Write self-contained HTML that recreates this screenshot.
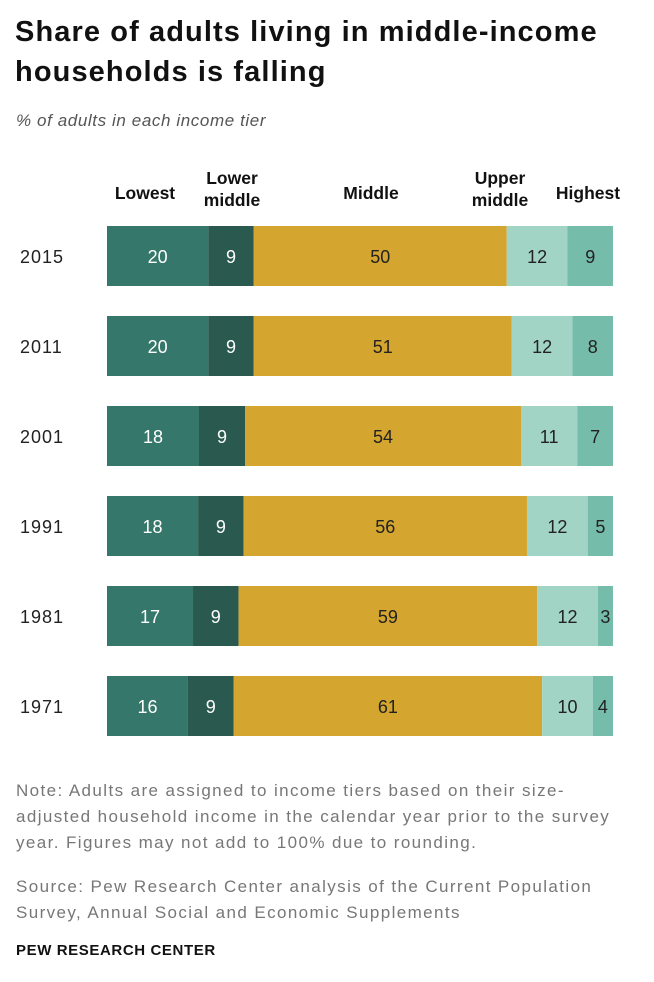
<!DOCTYPE html>
<html><head><meta charset="utf-8"><style>
body{margin:0;background:#fff;width:654px;height:982px;overflow:hidden;font-family:"Liberation Sans",sans-serif;}
.t{position:absolute;left:15px;top:12px;font-size:29px;font-weight:bold;color:#111;line-height:40px;letter-spacing:1.1px}
.sub{position:absolute;left:16px;top:111px;font-size:17px;font-style:italic;color:#555;letter-spacing:0.6px}
.note{position:absolute;left:16px;top:778px;font-size:17px;color:#777;line-height:26px;width:640px;white-space:nowrap;letter-spacing:1.4px}
.src{position:absolute;left:16px;top:874px;font-size:17px;color:#777;line-height:26px;white-space:nowrap;letter-spacing:1.4px}
.pew{position:absolute;left:16px;top:942px;font-size:15px;font-weight:bold;color:#111;letter-spacing:0.6px}
</style></head><body>
<div class="t">Share of adults living in middle-income<br>households is falling</div>
<div class="sub">% of adults in each income tier</div>
<svg id="chart" width="654" height="760" style="position:absolute;left:0;top:0"></svg>
<div class="note">Note: Adults are assigned to income tiers based on their size-<br>adjusted household income in the calendar year prior to the survey<br>year. Figures may not add to 100% due to rounding.</div>
<div class="src">Source: Pew Research Center analysis of the Current Population<br>Survey, Annual Social and Economic Supplements</div>
<div class="pew">PEW RESEARCH CENTER</div>
<script>
const years=["2015","2011","2001","1991","1981","1971"];
const lowest=[20,20,18,18,17,16];
const lowerMiddle=[9,9,9,9,9,9];
const middle=[50,51,54,56,59,61];
const upperMiddle=[12,12,11,12,12,10];
const highest=[9,8,7,5,3,4];
const tiers=[["Lowest"],["Lower","middle"],["Middle"],["Upper","middle"],["Highest"]];
const series=[lowest,lowerMiddle,middle,upperMiddle,highest];
const colors=["#35776a","#2a5a4f","#d4a52f","#a2d4c6","#75bcaa"];
const textCol=["#fff","#fff","#222","#222","#222"];
const NS="http://www.w3.org/2000/svg";
const svg=document.getElementById('chart');
const X0=107,X1=613,Y0=226,STEP=90,H=60;
function x(v,tot){return X0+v/tot*(X1-X0);}
function y(i){return Y0+i*STEP;}
function mk(tag,a,txt){const e=document.createElementNS(NS,tag);for(const k in a)e.setAttribute(k,a[k]);if(txt!=null)e.textContent=txt;svg.appendChild(e);return e;}
years.forEach((yr,i)=>{
  const tot=series.reduce((s,a)=>s+a[i],0);
  const yl=mk('text',{x:20,y:y(i)+H/2+7,'font-size':18,fill:'#222','letter-spacing':1},yr);
  
  
  let c=0;
  series.forEach((s,j)=>{
    const xa=x(c,tot),xb=x(c+s[i],tot);
    const r=mk('rect',{x:xa,y:y(i),width:xb-xa,height:H,fill:colors[j]});
    
    
    const l=mk('text',{x:(xa+xb)/2,y:y(i)+H/2+7,'font-size':18,fill:textCol[j],'text-anchor':'middle'},s[i]);
    
    
    c+=s[i];
  });
});
const hx=[145,232,371,500,588];
tiers.forEach((t,j)=>{
  t.forEach((ln,k)=>{
    const yy=t.length==1?199:184+k*22;
    const h=mk('text',{x:hx[j],y:yy,'font-size':17.5,'font-weight':'bold',fill:'#111','text-anchor':'middle'},ln);
    
    
  });
});
</script>
</body></html>
